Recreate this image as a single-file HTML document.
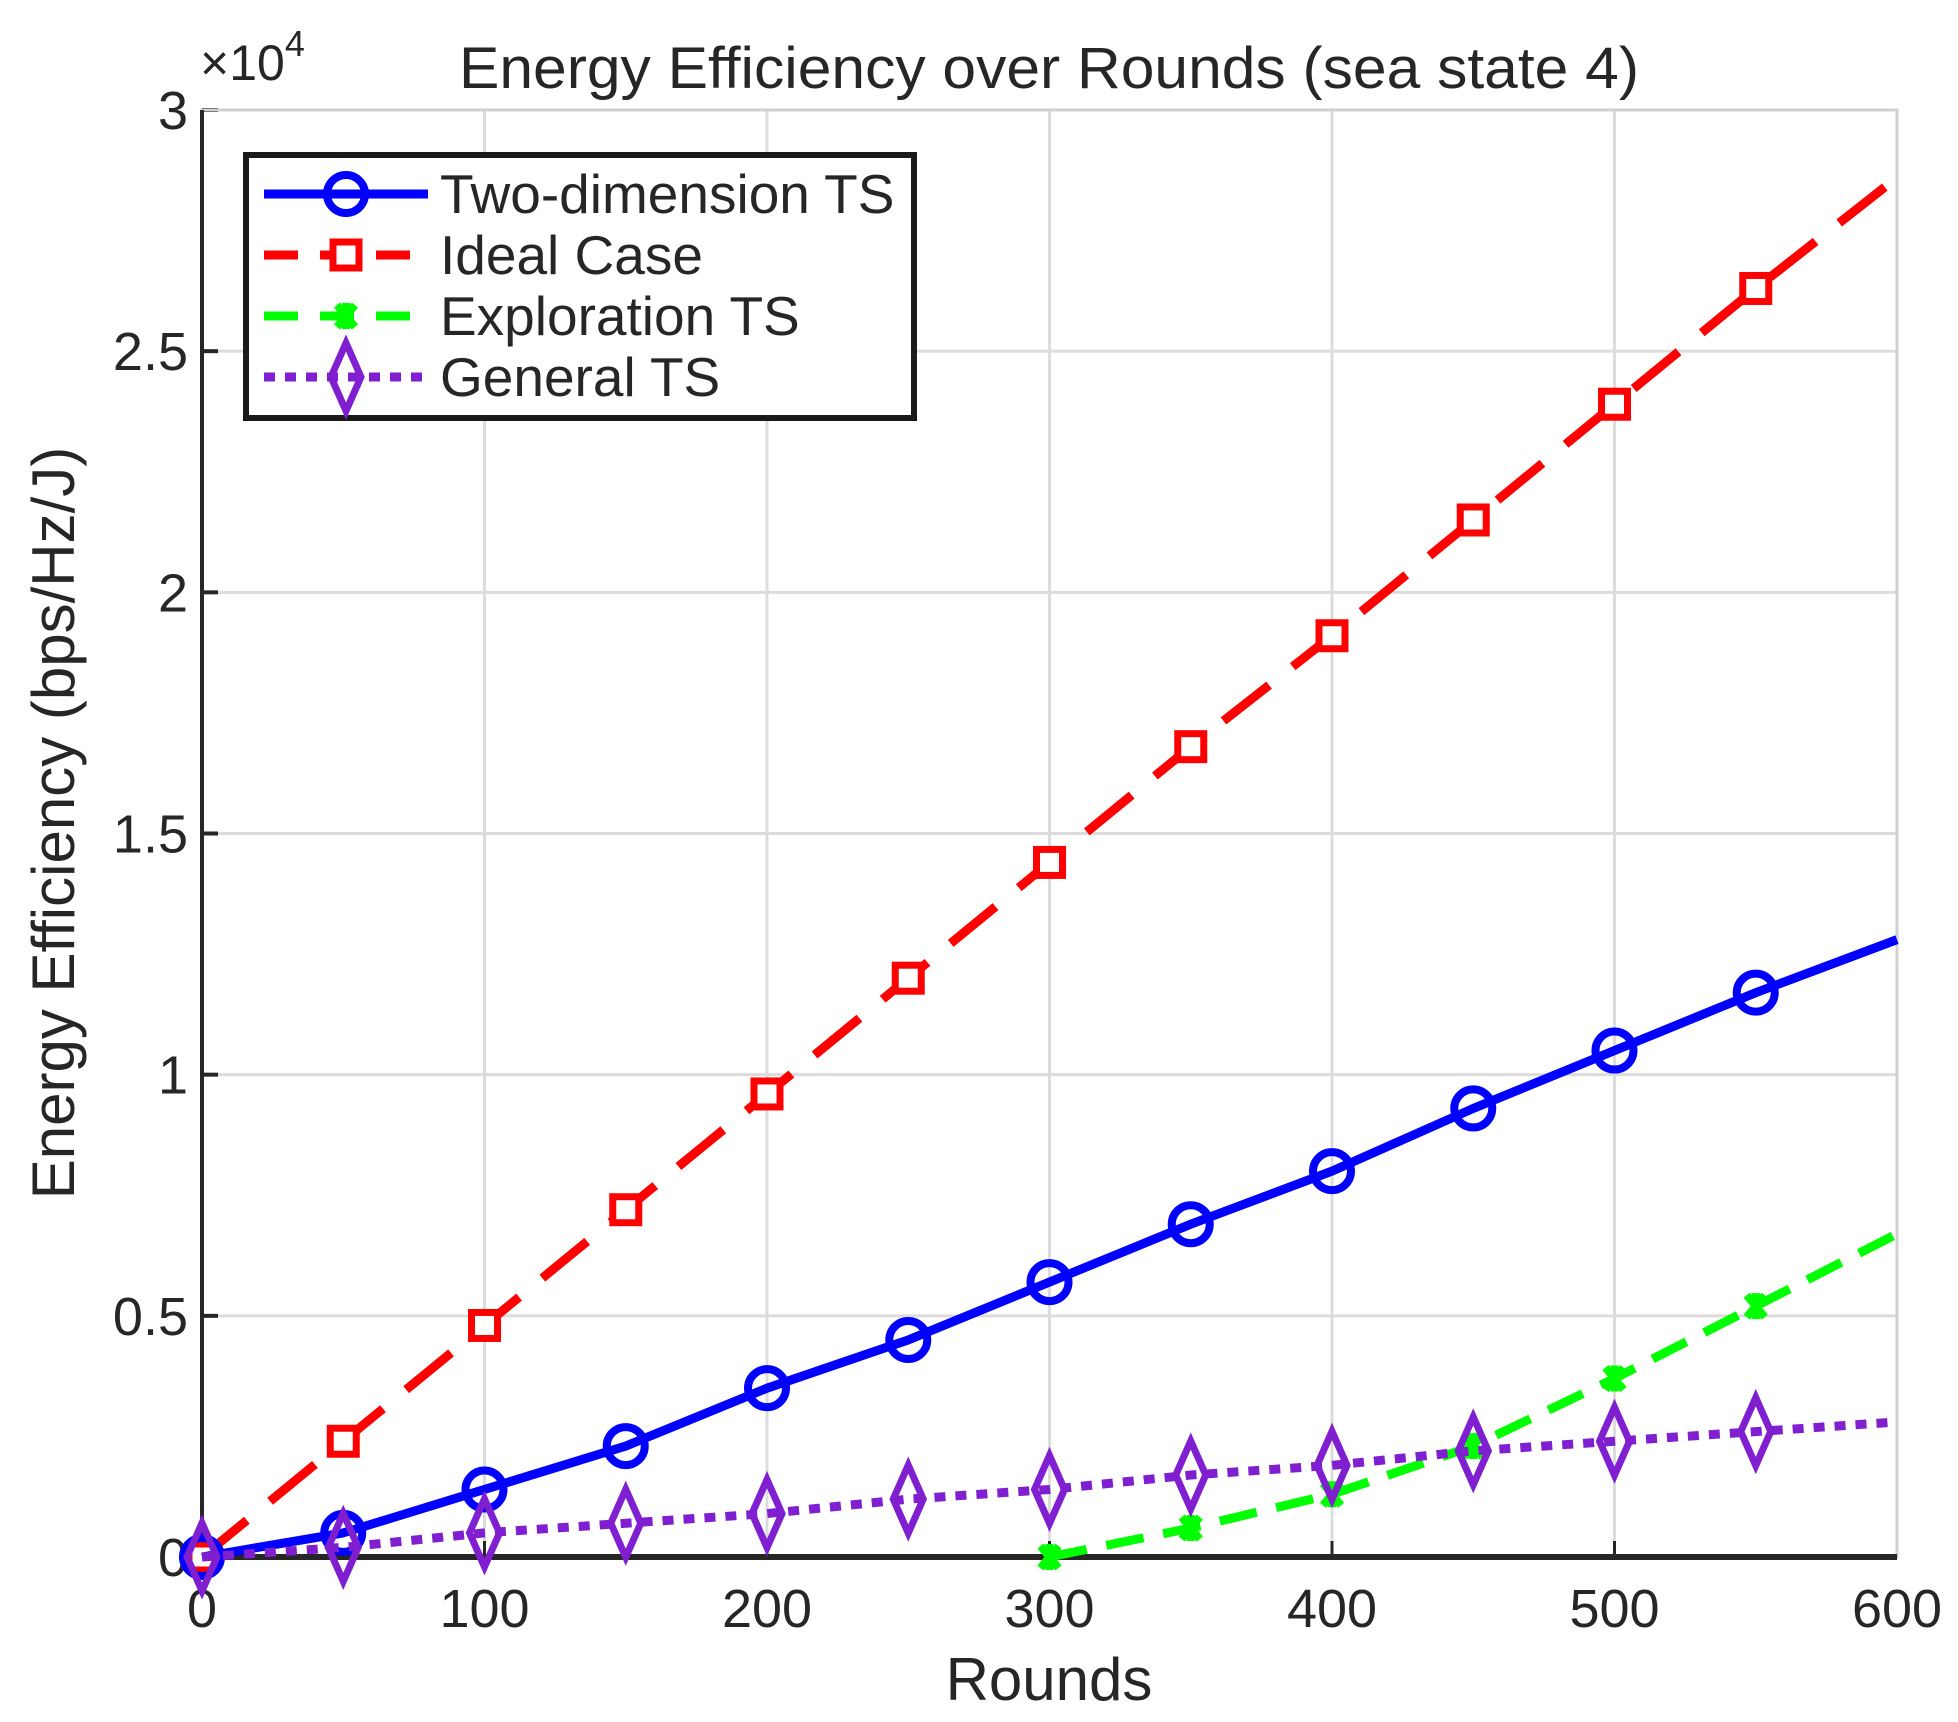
<!DOCTYPE html>
<html><head><meta charset="utf-8"><style>
html,body{margin:0;padding:0;background:#fff;}
svg{display:block;font-family:"Liberation Sans",Arial,sans-serif;}
</style></head><body>
<svg id="chart" width="1958" height="1722" viewBox="0 0 1958 1722" xmlns="http://www.w3.org/2000/svg">
<g id="grid"></g>
<g id="axes"></g>
<g id="series"></g>
<text x="1049" y="88" font-size="58" text-anchor="middle" fill="#262626" textLength="1180" lengthAdjust="spacingAndGlyphs">Energy Efficiency over Rounds (sea state 4)</text>
<text x="200" y="80" font-size="50" fill="#262626">×10<tspan dy="-24" font-size="36">4</tspan></text>
<text x="1049" y="1700" font-size="60" text-anchor="middle" fill="#262626">Rounds</text>
<text transform="translate(74,823) rotate(-90)" font-size="60" text-anchor="middle" fill="#262626">Energy Efficiency (bps/Hz/J)</text>
<g id="legend"></g>
</svg>
<script>
const rounds=[0,50,100,150,200,250,300,350,400,450,500,550,600];
const twoDim=[0,0.05,0.14,0.23,0.35,0.45,0.57,0.69,0.80,0.93,1.05,1.17,1.28];
const ideal=[0,0.24,0.48,0.72,0.96,1.20,1.44,1.68,1.91,2.15,2.39,2.63,2.86];
const explRounds=[300,350,400,450,500,550,600];
const exploration=[0,0.06,0.13,0.23,0.37,0.52,0.67];
const general=[0,0.02,0.05,0.07,0.09,0.12,0.14,0.17,0.19,0.22,0.24,0.26,0.28];
const xTicks=[0,100,200,300,400,500,600];
const yTicks=[0,0.5,1,1.5,2,2.5,3];
const yTickLabels=["0","0.5","1","1.5","2","2.5","3"];

const NS="http://www.w3.org/2000/svg";
const L=202,R=1897,T=110,B=1557;
const xs=v=>L+(v/600)*(R-L);
const ys=v=>B-(v/3)*(B-T);
function mk(tag,attrs,parent){const e=document.createElementNS(NS,tag);for(const k in attrs)e.setAttribute(k,attrs[k]);parent.appendChild(e);return e;}
const grid=document.getElementById('grid'),axes=document.getElementById('axes'),series=document.getElementById('series'),legend=document.getElementById('legend');

xTicks.forEach(t=>{
  const g=mk('line',{x1:xs(t),x2:xs(t),y1:T,y2:B,stroke:'#dcdcdc','stroke-width':3},grid);
  
  
  const tk=mk('line',{x1:xs(t),x2:xs(t),y1:B,y2:B-16,stroke:'#262626','stroke-width':3},axes);
  
  
  const lb=mk('text',{x:xs(t),y:B+70,'font-size':54,'text-anchor':'middle',fill:'#262626'},axes);
  lb.textContent=t;
  
  
});
yTicks.forEach((t,i)=>{
  const g=mk('line',{x1:L,x2:R,y1:ys(t),y2:ys(t),stroke:'#dcdcdc','stroke-width':3},grid);
  
  
  const tk=mk('line',{x1:L,x2:L+16,y1:ys(t),y2:ys(t),stroke:'#262626','stroke-width':4},axes);
  
  
  const lb=mk('text',{x:L-14,y:ys(t)+19,'font-size':54,'text-anchor':'end',fill:'#262626'},axes);
  lb.textContent=yTickLabels[i];
  
  
});
const box=mk('rect',{x:L,y:T,width:R-L,height:B-T,fill:'none',stroke:'#d0d0d0','stroke-width':3},axes);


const ax1=mk('line',{x1:L,x2:L,y1:T,y2:B,stroke:'#262626','stroke-width':4},axes);


const ax2=mk('line',{x1:L,x2:R,y1:B,y2:B,stroke:'#262626','stroke-width':6},axes);



function marker(type,x,y,color,parent){
  let e;
  if(type==='circle') e=mk('circle',{cx:x,cy:y,r:19,fill:'none',stroke:color,'stroke-width':8},parent);
  else if(type==='square') e=mk('rect',{x:x-13,y:y-13,width:26,height:26,fill:'#fff',stroke:color,'stroke-width':7},parent);
  else if(type==='star') e=mk('path',{d:`M${x-9},${y-11}L${x+9},${y+11}M${x+9},${y-11}L${x-9},${y+11}M${x},${y-13}L${x},${y+13}`,stroke:color,'stroke-width':8},parent);
  else e=mk('path',{d:`M${x},${y-34}L${x+15},${y}L${x},${y+34}L${x-15},${y}Z`,fill:'none',stroke:color,'stroke-width':7},parent);
  return e;
}
function drawSeries(name,xv,yv,color,dash,mtype){
  const g=mk('g',{},series);
  
  
  const pts=xv.map((x,i)=>xs(x)+','+ys(yv[i])).join(' ');
  const pl=mk('polyline',{points:pts,fill:'none',stroke:color,'stroke-width':9,'stroke-dasharray':dash,'stroke-linejoin':'round'},g);
  
  
  xv.forEach((x,i)=>{ if(x===600) return;
    const m=marker(mtype,xs(x),ys(yv[i]),color,g);
    
    
  });
}
drawSeries('ideal-case',rounds,ideal,'#ff0000','58 30','square');
drawSeries('two-dimension-ts',rounds,twoDim,'#0000ff','none','circle');
drawSeries('exploration-ts',explRounds,exploration,'#00ff00','38 20','star');
drawSeries('general-ts',rounds,general,'#7f1fd0','11 10','diamond');

const lb=mk('rect',{x:246,y:155,width:668,height:263,fill:'#fff',stroke:'#1a1a1a','stroke-width':6},legend);


const entries=[['Two-dimension TS','#0000ff','none','circle'],['Ideal Case','#ff0000','34 22','square'],['Exploration TS','#00ff00','34 22','star'],['General TS','#7f1fd0','11 10','diamond']];
entries.forEach((en,i)=>{
  const y=194+i*61;
  const g=mk('g',{},legend);
  
  
  mk('line',{x1:264,x2:428,y1:y,y2:y,stroke:en[1],'stroke-width':9,'stroke-dasharray':en[2]},g);
  marker(en[3],346,y,en[1],g);
  const t=mk('text',{x:440,y:y+19,'font-size':55,fill:'#262626'},g);
  t.textContent=en[0];
});
</script>
</body></html>
